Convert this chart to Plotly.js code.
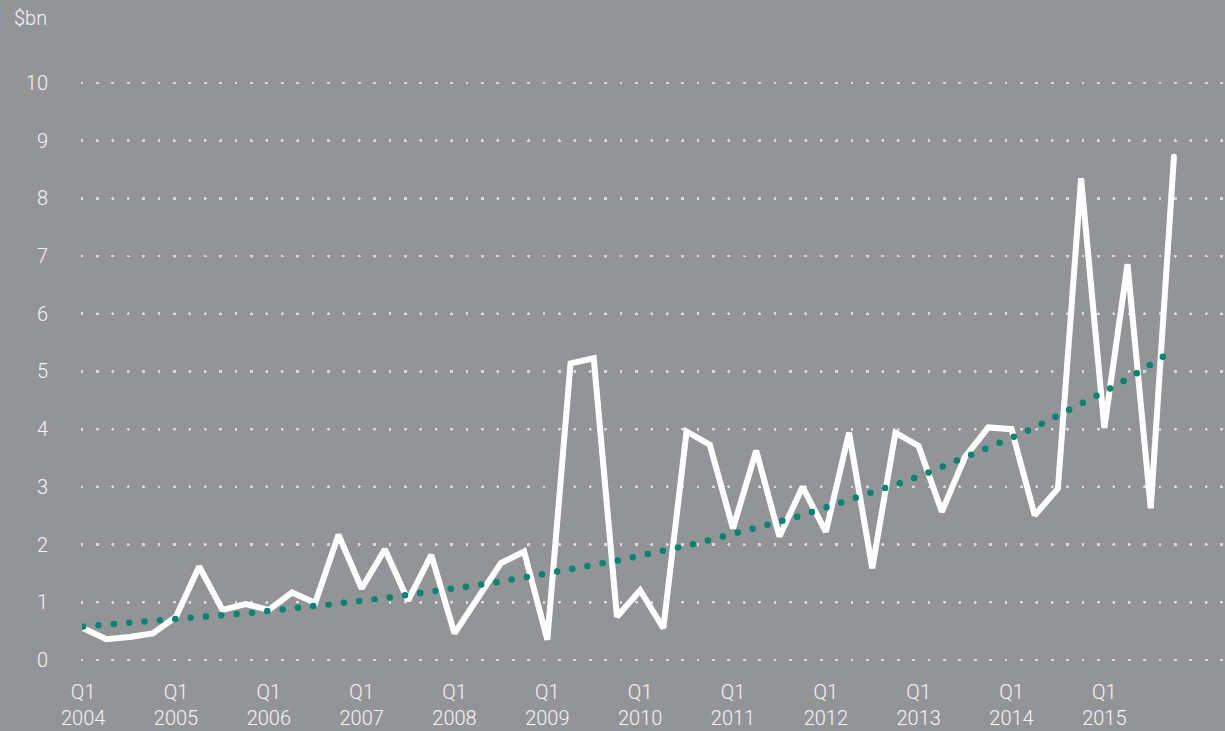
<!DOCTYPE html>
<html>
<head>
<meta charset="utf-8">
<script src="https://cdn.plot.ly/plotly-3.0.1.min.js"></script>
<style>
html, body { margin: 0; padding: 0; background: #939498; }
#chart { width: 1225px; height: 731px; }
.js-line { stroke-linecap: round; }
.ygrid { stroke-linecap: round; }
</style>
</head>
<body>
<div id="chart"></div>
<script>
// Quarterly values, $bn (Q1 2004 .. Q4 2015)
const quarters = [];
const years = [2004, 2005, 2006, 2007, 2008, 2009, 2010, 2011, 2012, 2013, 2014, 2015];
years.forEach(y => ['Q1', 'Q2', 'Q3', 'Q4'].forEach(q => quarters.push(q + ' ' + y)));

const values = [
  0.55, 0.36, 0.40, 0.46,
  0.75, 1.62, 0.87, 0.97,
  0.87, 1.17, 0.99, 2.17,
  1.24, 1.92, 1.03, 1.82,
  0.46, 1.06, 1.68, 1.88,
  0.35, 5.14, 5.23, 0.75,
  1.21, 0.55, 3.96, 3.73,
  2.28, 3.63, 2.14, 3.00,
  2.22, 3.94, 1.59, 3.94,
  3.71, 2.57, 3.52, 4.03,
  4.00, 2.51, 2.97, 8.35,
  4.02, 6.86, 2.63, 8.72
];

// Trend line (dotted green)
const trend = [
  0.58, 0.61, 0.64, 0.67,
  0.70, 0.74, 0.77, 0.81,
  0.85, 0.89, 0.93, 0.98,
  1.02, 1.07, 1.13, 1.18,
  1.24, 1.30, 1.36, 1.43,
  1.49, 1.57, 1.64, 1.72,
  1.81, 1.89, 1.98, 2.08,
  2.18, 2.29, 2.40, 2.51,
  2.64, 2.76, 2.90, 3.04,
  3.18, 3.34, 3.50, 3.67,
  3.85, 4.03, 4.23, 4.43,
  4.65, 4.87, 5.11, 5.38
];

const tickCats = ['Q1 2004', 'Q1 2005', 'Q1 2006', 'Q1 2007', 'Q1 2008', 'Q1 2009',
                  'Q1 2010', 'Q1 2011', 'Q1 2012', 'Q1 2013', 'Q1 2014', 'Q1 2015'];
const tickText = tickCats.map(c => c.replace(' ', '<br>'));
const yTicks = [0, 1, 2, 3, 4, 5, 6, 7, 8, 9, 10];

const family = 'Roboto, "Helvetica Neue", Arial, sans-serif';
const xFont = { family: family, size: 20, color: '#f4f4f4', weight: 300 };
const yFont = { family: family, size: 20, color: '#f4f4f4', weight: 300 };

const traces = [
  {
    x: quarters, y: values, type: 'scatter', mode: 'lines',
    line: { color: '#ffffff', width: 6 },
    hoverinfo: 'x+y'
  },
  {
    x: quarters, y: trend, type: 'scatter', mode: 'lines',
    line: { color: '#00856f', width: 6.5, dash: '0px,15.4px' },
    hoverinfo: 'skip'
  }
];

const layout = {
  width: 1225, height: 731,
  paper_bgcolor: '#939498', plot_bgcolor: '#939498',
  margin: { l: 82, r: 0, t: 40, b: 59 },
  showlegend: false,
  font: xFont,
  xaxis: {
    type: 'category',
    categoryorder: 'array', categoryarray: quarters,
    range: [-0.05, 49.2],
    tickmode: 'array', tickvals: tickCats, ticktext: tickText,
    showgrid: false, zeroline: false, showline: false,
    ticks: '', tickfont: xFont, tickangle: 0, ticklabelstandoff: 6
  },
  yaxis: {
    range: [-0.208, 10.745],
    tickmode: 'array', tickvals: yTicks,
    showgrid: true, gridcolor: '#dadadc', gridwidth: 3, griddash: '0px,15.4px',
    zeroline: false, showline: false, ticks: '',
    tickfont: yFont, ticklabelstandoff: 33
  },
  annotations: [
    {
      text: '$bn', xref: 'paper', yref: 'paper',
      x: -0.029, y: 1.035, xanchor: 'right', yanchor: 'middle',
      showarrow: false, font: yFont
    }
  ]
};

Plotly.newPlot('chart', traces, layout, { displayModeBar: false, staticPlot: true });
</script>
</body>
</html>
